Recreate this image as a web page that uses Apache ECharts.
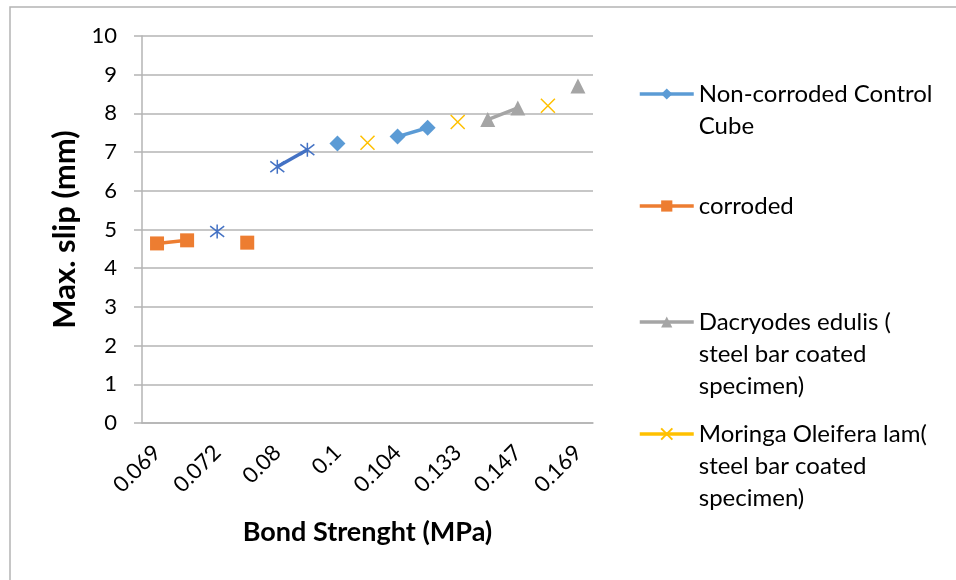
<!DOCTYPE html>
<html>
<head>
<meta charset="utf-8">
<script src="https://cdn.jsdelivr.net/npm/echarts@6/dist/echarts.min.js"></script>
<style>html,body{margin:0;padding:0;background:#fff;}#c{width:956px;height:580px;}</style>
</head>
<body>
<div id="c"></div>
<script>
const categories = ['0.069','0.07','0.072','0.075','0.08','0.09','0.1','0.102','0.104','0.12','0.133','0.14','0.147','0.16','0.169'];
const nonCorroded = [null,null,null,null,null,null,7.22,null,7.40,7.63,null,null,null,null,null];
const corroded    = [4.64,4.72,null,4.66,null,null,null,null,null,null,null,null,null,null,null];
const starSeries  = [null,null,4.95,null,6.62,7.06,null,null,null,null,null,null,null,null,null];
const moringa     = [null,null,null,null,null,null,null,7.24,null,null,7.78,null,null,8.20,null];
const dacryodes   = [null,null,null,null,null,null,null,null,null,null,null,7.84,8.14,null,8.71];
const yTicks = [0,1,2,3,4,5,6,7,8,9,10];

const names = {
  nc: 'Non-corroded Control\nCube',
  co: 'corroded',
  da: 'Dacryodes edulis (\nsteel bar coated\nspecimen)',
  mo: 'Moringa Oleifera lam(\nsteel bar coated\nspecimen)',
  st: 'Series 5'
};

const FONT = 'Lato';
const crossPath = 'path://M0 0L10 10M10 0L0 10';
const starPath = 'path://M0 0L10 10M10 0L0 10M5 -1.5L5 11.5';

function legendFor(name, iconY) {
  const lh = 32;
  const lines = name.split('\n').length;
  // text is centred on the icon; pad with leading blank lines so the first line sits on the icon
  const total = 2 * lines - 1;
  const h = 14;
  const top = iconY - (total * lh) / 2;
  return {
    data: [name],
    left: 638,
    top: top,
    padding: 0,
    itemWidth: 54,
    itemHeight: h,
    selectedMode: false,
    lineStyle: {width: 3.5},
    formatter: function (n) { return '\n'.repeat(lines - 1) + n; },
    textStyle: {fontFamily: FONT, fontSize: 24, color: '#000', lineHeight: lh}
  };
}

const chart = echarts.init(document.getElementById('c'), null, {renderer: 'canvas'});
chart.setOption({
  animation: false,
  backgroundColor: '#fff',
  graphic: [{
    type: 'rect', shape: {x: 10, y: 7, width: 980, height: 600},
    style: {fill: 'none', stroke: '#B4B4B4', lineWidth: 1.5}, silent: true, z: -1
  }],
  grid: {left: 142, right: 363, top: 36, bottom: 157, containLabel: false},
  legend: [
    legendFor(names.nc, 94),
    legendFor(names.co, 206),
    legendFor(names.da, 322),
    legendFor(names.mo, 434)
  ],
  xAxis: {
    type: 'category',
    data: categories,
    boundaryGap: true,
    name: 'Bond Strenght (MPa)',
    nameLocation: 'middle',
    nameGap: 96,
    nameTextStyle: {fontFamily: FONT, fontSize: 27, fontWeight: 'bold', color: '#000'},
    axisLine: {lineStyle: {color: '#B4B4B4', width: 1.5}},
    axisTick: {show: false},
    axisLabel: {interval: 1, rotate: 45, margin: 26, fontFamily: FONT, fontSize: 22, color: '#000'},
    splitLine: {show: false}
  },
  yAxis: {
    type: 'value',
    min: 0, max: 10, interval: 1,
    name: 'Max. slip (mm)',
    nameLocation: 'middle',
    nameGap: 62,
    nameTextStyle: {fontFamily: FONT, fontSize: 31, fontWeight: 'bold', color: '#000'},
    axisLine: {show: true, lineStyle: {color: '#B4B4B4', width: 1.5}},
    axisTick: {show: true, inside: false, length: 8, lineStyle: {color: '#B4B4B4', width: 1.5}},
    axisLabel: {
      margin: 25, fontFamily: FONT, fontSize: 22, color: '#000',
      formatter: function (v) { return yTicks.indexOf(v) >= 0 ? String(v) : ''; }
    },
    splitLine: {lineStyle: {color: '#B4B4B4', width: 1.5}}
  },
  series: [
    {
      name: names.nc, type: 'line', data: nonCorroded, connectNulls: false,
      symbol: 'diamond', symbolSize: 16,
      itemStyle: {color: '#5B9BD5'}, lineStyle: {color: '#5B9BD5', width: 3.5}
    },
    {
      name: names.co, type: 'line', data: corroded, connectNulls: false,
      symbol: 'rect', symbolSize: 14,
      itemStyle: {color: '#ED7D31'}, lineStyle: {color: '#ED7D31', width: 3.5}
    },
    {
      name: names.da, type: 'line', data: dacryodes, connectNulls: false,
      symbol: 'triangle', symbolSize: 15,
      itemStyle: {color: '#A5A5A5'}, lineStyle: {color: '#A5A5A5', width: 3.5}
    },
    {
      name: names.mo, type: 'line', data: moringa, connectNulls: false,
      symbol: crossPath, symbolSize: 14,
      itemStyle: {color: 'none', borderColor: '#FFC000', borderWidth: 1.5},
      lineStyle: {color: '#FFC000', width: 3.5}
    },
    {
      name: names.st, type: 'line', data: starSeries, connectNulls: false,
      symbol: starPath, symbolSize: 14,
      itemStyle: {color: 'none', borderColor: '#4472C4', borderWidth: 1.5},
      lineStyle: {color: '#4472C4', width: 3.5}
    }
  ]
});
</script>
</body>
</html>
